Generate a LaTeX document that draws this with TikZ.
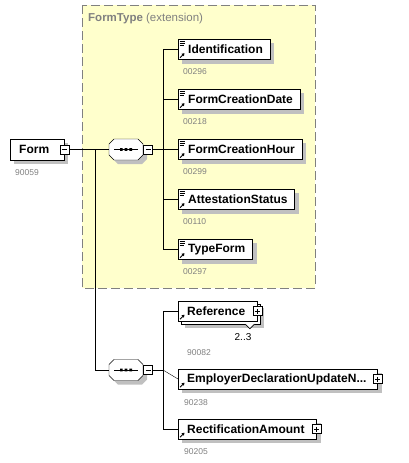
\documentclass[tikz,border=0pt]{standalone}
\usepackage{fontspec}
\setmainfont{Liberation Sans}
\usepackage{tikz}
\usetikzlibrary{arrows.meta}
\usepackage{xcolor}
\definecolor{frameyellow}{RGB}{255,255,204}
\definecolor{idgray}{RGB}{128,128,128}
\definecolor{shadowgray}{RGB}{192,192,192}
\pgfdeclarelayer{frame}
\pgfdeclarelayer{shade}
\pgfsetlayers{frame,shade,main}

\begin{document}
\begin{tikzpicture}[x=1pt, y=-1pt, line width=0.8pt,
  elem/.style={draw, fill=white, minimum height=20pt, inner xsep=0pt, inner ysep=0pt, anchor=west,
    font=\fontsize{12}{14}\selectfont\bfseries},
  idtext/.style={anchor=west, inner sep=0pt, text=idgray, font=\fontsize{8.5}{10}\selectfont},
  seqbox/.style={rectangle, minimum width=34pt, minimum height=21pt, inner sep=0pt},
  seqshape/.pic={
    \fill[shadowgray, shift={(4,4)}] (-12,-10.5) -- (12,-10.5) -- (17,-5.5) -- (17,5.5) -- (12,10.5) -- (-12,10.5) -- (-17,5.5) -- (-17,-5.5) -- cycle;
    \draw[fill=white] (-12,-10.5) -- (12,-10.5) -- (17,-5.5) -- (17,5.5) -- (12,10.5) -- (-12,10.5) -- (-17,5.5) -- (-17,-5.5) -- cycle;
    \draw (-12,0) -- (12,0);
    \fill (-6,-1.4) rectangle (-3.4,1.4) (-1.3,-1.4) rectangle (1.3,1.4) (3.4,-1.4) rectangle (6,1.4);},
  collapse/.pic={\draw[fill=white, line width=0.7pt] (-4.5,-4.5) rectangle (4.5,4.5);
    \draw[line width=0.7pt] (-2.5,0) -- (2.5,0);},
  expand/.pic={\draw[fill=white, line width=0.7pt] (-4.5,-4.5) rectangle (4.5,4.5);
    \draw[line width=0.7pt] (-2.5,0) -- (2.5,0) (0,-2.5) -- (0,2.5);},
  docmark/.pic={\draw[line width=0.7pt] (0,0) -- (5.5,0) (0,2) -- (5.5,2) (0,4) -- (4,4);},
  refarrow/.pic={\draw[line width=0.9pt, -{Triangle[length=2.6pt, width=3.2pt]}] (0,0) -- (4.5,-4.5);}
]
\useasboundingbox (0,0) rectangle (408,463);

% extension frame
\begin{pgfonlayer}{frame}
\draw[idgray, dash pattern=on 9pt off 4pt, fill=frameyellow] (82,5) rectangle (315,288);
\end{pgfonlayer}
\node[anchor=west, inner sep=0pt, text=idgray, font=\fontsize{11.5}{13}\selectfont] (ftype) at (88,19) {\textbf{FormType} (extension)};

% root and sequences
\node[elem, minimum height=21pt] (form) at (10,149.5) {\hspace{9pt}Form\rule{15pt}{0pt}};
\node[idtext] (formid) at ([shift={(5,12)}]form.south west) {90059};
\node[seqbox] (seq1) at (126,149.5) {};
\node[seqbox] (seq2) at (126,370) {};
\coordinate (j1) at (95,149.5);
\coordinate (b1) at (163,149.5);
\coordinate (b2) at (163,370);

% FormType children
\node[elem] (ident) at (178,49.5) {\hspace{10pt}Identification\rule{7pt}{0pt}};
\node[elem] (fcdate) at (178,99.5) {\hspace{10pt}FormCreationDate\rule{7pt}{0pt}};
\node[elem] (fchour) at (178,149.5) {\hspace{10pt}FormCreationHour\rule{7pt}{0pt}};
\node[elem] (attest) at (178,199.5) {\hspace{10pt}AttestationStatus\rule{7pt}{0pt}};
\node[elem] (typeform) at (178,249.5) {\hspace{10pt}TypeForm\rule{7pt}{0pt}};
\node[idtext] (identid) at ([shift={(5,12)}]ident.south west) {00296};
\node[idtext] (fcdateid) at ([shift={(5,12)}]fcdate.south west) {00218};
\node[idtext] (fchourid) at ([shift={(5,12)}]fchour.south west) {00299};
\node[idtext] (attestid) at ([shift={(5,12)}]attest.south west) {00110};
\node[idtext] (typeformid) at ([shift={(5,12)}]typeform.south west) {00297};

% second sequence children
\node[elem] (ref) at (178,311) {\hspace{9pt}Reference\rule{12pt}{0pt}};
\node[elem] (empl) at (178,379) {\hspace{9pt}EmployerDeclarationUpdateN...\rule{11pt}{0pt}};
\node[elem] (rect) at (178,429) {\hspace{9pt}RectificationAmount\rule{12pt}{0pt}};
\draw[fill=white, line width=0.7pt] ([shift={(-12,3)}]ref.south east) -- ([shift={(-7.5,7.5)}]ref.south east) -- ([shift={(-3,3)}]ref.south east);
\node[inner sep=0pt, font=\fontsize{10}{12}\selectfont] (refocc) at (243,337) {2..3};
\node[idtext] (refid) at ([shift={(9,31)}]ref.south west) {90082};
\node[idtext] (emplid) at ([shift={(6,13)}]empl.south west) {90238};
\node[idtext] (rectid) at ([shift={(6,12)}]rect.south west) {90205};

% shadows under the boxes
\begin{pgfonlayer}{shade}
\foreach \b in {form,ident,fcdate,fchour,attest,typeform,empl,rect}
  \fill[shadowgray] ([shift={(4,4)}]\b.north west) rectangle ([shift={(4,4)}]\b.south east);
\fill[shadowgray] ([shift={(7,7)}]ref.north west) rectangle ([shift={(7,7)}]ref.south east);
\draw[fill=white] ([shift={(3,3)}]ref.north west) rectangle ([shift={(3,3)}]ref.south east);
\end{pgfonlayer}

% connectors
\draw (form.east) -- (seq1.west);
\draw (j1) |- (seq2.west);
\draw (seq1.east) -- (b1);
\draw (b1 |- ident.west) -- (b1 |- typeform.west);
\draw (b1 |- ident.west) -- (ident.west);
\draw (b1 |- fcdate.west) -- (fcdate.west);
\draw (b1) -- (fchour.west);
\draw (b1 |- attest.west) -- (attest.west);
\draw (b1 |- typeform.west) -- (typeform.west);
\draw (seq2.east) -- (b2);
\draw (b2 |- ref.west) -- (b2 |- rect.west);
\draw (b2 |- ref.west) -- (ref.west);
\draw (b2) -- (empl.west);
\draw (b2 |- rect.west) -- (rect.west);

% marks on the boxes
\pic at (seq1) {seqshape};
\pic at (seq2) {seqshape};
\pic at (form.east) {collapse};
\pic at ([xshift=5pt]seq1.east) {collapse};
\pic at ([xshift=5pt]seq2.east) {collapse};
\pic at (ref.east) {expand};
\pic at (empl.east) {expand};
\pic at (rect.east) {expand};
\pic at ([shift={(1.5,1.8)}]ident.north west) {docmark};
\pic at ([shift={(1.5,1.8)}]fcdate.north west) {docmark};
\pic at ([shift={(1.5,1.8)}]fchour.north west) {docmark};
\pic at ([shift={(1.5,1.8)}]attest.north west) {docmark};
\pic at ([shift={(1.5,1.8)}]typeform.north west) {docmark};
\pic at ([shift={(2,-2)}]ident.south west) {refarrow};
\pic at ([shift={(2,-2)}]fcdate.south west) {refarrow};
\pic at ([shift={(2,-2)}]fchour.south west) {refarrow};
\pic at ([shift={(2,-2)}]attest.south west) {refarrow};
\pic at ([shift={(2,-2)}]typeform.south west) {refarrow};
\pic at ([shift={(2,-2)}]ref.south west) {refarrow};
\pic at ([shift={(2,-2)}]empl.south west) {refarrow};
\pic at ([shift={(2,-2)}]rect.south west) {refarrow};
\end{tikzpicture}
\end{document}
